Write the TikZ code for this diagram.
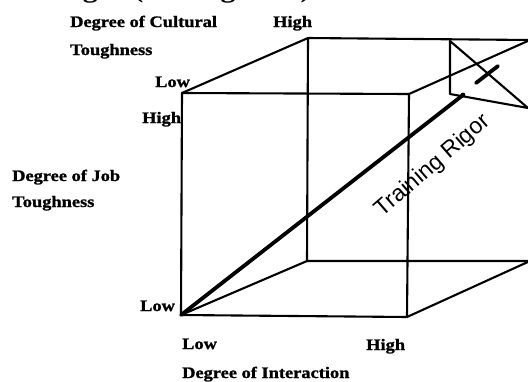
\documentclass[tikz,border=0pt]{standalone}
\usepackage{fontspec}
\newfontfamily\labfont{Liberation Serif}[FakeStretch=1.15]
\newfontfamily\heavyfont{Liberation Serif}[FakeStretch=1.15,FakeBold=1.2]
\newfontfamily\rigfont{Liberation Sans}
\begin{document}
\begin{tikzpicture}[x=1pt,y=-1pt,
  edge/.style={line width=2.1pt, line cap=round, line join=round},
  diag/.style={line width=3.8pt, line cap=round},
  lab/.style={font={\heavyfont\bfseries\fontsize{16}{18}\selectfont}, inner sep=0pt, anchor=base west},
  bodytext/.style={font={\labfont\bfseries\fontsize{26}{30}\selectfont}, inner sep=0pt, anchor=base west},
  rigor/.style={font={\rigfont\fontsize{23}{26}\selectfont}, inner sep=0pt, rotate=41}]
\useasboundingbox (0,0) rectangle (528,381);
\clip (0,0) rectangle (528,381);
% cube corners
\coordinate (FTL) at (182,93);
\coordinate (FTR) at (409,94);
\coordinate (FBL) at (181,315);
\coordinate (FBR) at (407,317);
\coordinate (BTL) at (308,38);
\coordinate (BTR) at (530,40);
\coordinate (BBL) at (307,261);
\coordinate (BBR) at (530,261);
% arrow head pieces
\coordinate (T1) at (450,41);
\coordinate (T2) at (450,94);
\coordinate (T3) at (528,108);
\coordinate (DE) at (463,95);
\coordinate (S1) at (476,83);
\coordinate (S2) at (498,66);
% front face
\draw[edge] (FTL) -- (FTR) -- (FBR) -- (FBL) -- cycle;
% back face
\draw[edge] (BTR) -- (BTL) -- (BBL) -- (BBR);
% connecting edges
\draw[edge] (FTL) -- (BTL);
\draw[edge] (FTR) -- (BTR);
\draw[edge] (FBL) -- (BBL);
\draw[edge] (FBR) -- (BBR);
% arrow head
\draw[edge] (T1) -- (T2) -- (T3) -- cycle;
% diagonal
\draw[diag] (FBL) -- (DE);
\fill (DE) circle (2.4pt);
\draw[diag] (S1) -- (S2);
% texts
\node[bodytext] (top) at (-3,-3) {ns designs (See Figure 1).};
\node[lab] (cult1) at (70,27) {Degree of Cultural};
\node[lab] (cult2) at (70,55) {Toughness};
\node[lab] (chigh) at (273,27) {High};
\node[lab] (clow) at (155,87) {Low};
\node[lab] (jhigh) at (142,123) {High};
\node[lab] (job1) at (12,181) {Degree of Job};
\node[lab] (job2) at (12,207) {Toughness};
\node[lab] (jlow) at (140,311) {Low};
\node[lab] (ilow) at (182,349) {Low};
\node[lab] (ihigh) at (366,350) {High};
\node[lab] (inter) at (182,378) {Degree of Interaction};
\node[rigor] (tr) at (433,166) {Training Rigor};
\end{tikzpicture}
\end{document}
